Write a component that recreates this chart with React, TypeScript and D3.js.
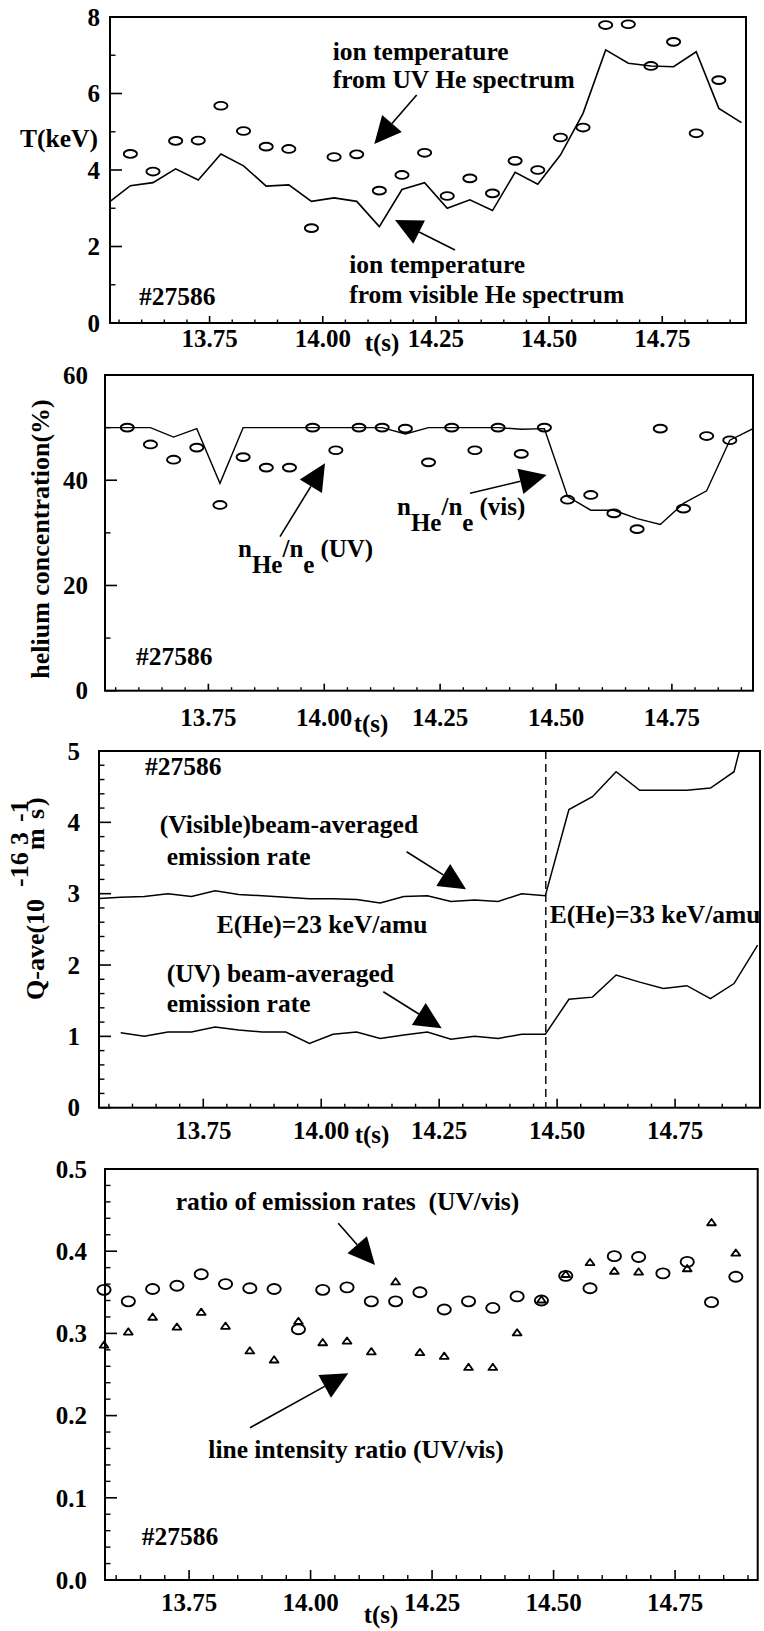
import React from 'react';
import * as d3 from 'd3';

const SERIF = '"Liberation Serif", "Times New Roman", Times, serif';
const W = 764;
const H = 1631;

// Sample times (s), one every 50 ms
const tGrid = [13.525, 13.575, 13.625, 13.675, 13.725, 13.775, 13.825, 13.875, 13.925, 13.975,
  14.025, 14.075, 14.125, 14.175, 14.225, 14.275, 14.325, 14.375, 14.425, 14.475,
  14.525, 14.575, 14.625, 14.675, 14.725, 14.775, 14.825, 14.875, 14.925];

// Ion temperature (keV)
const tiVisible = [3.13, 3.59, 3.67, 4.03, 3.74, 4.42, 4.11, 3.58, 3.61, 3.18, 3.27, 3.18, 2.52, 3.49, 3.67,
  3.00, 3.22, 2.94, 3.94, 3.63, 4.39, 5.48, 7.14, 6.79, 6.72, 6.70, 7.09, 5.61, 5.24];
const tiUV = [null, 4.42, 3.96, 4.76, 4.77, 5.68, 5.02, 4.61, 4.55, 2.48, 4.34, 4.41, 3.46, 3.87, 4.45,
  3.32, 3.78, 3.39, 4.24, 4.00, 4.85, 5.11, 7.79, 7.81, 6.72, 7.35, 4.96, 6.35, null];

// Helium concentration n_He/n_e (%)
const heVisible = [50, 50, 50, 48.2, 49.8, 39.4, 50, 50, 50, 50, 50, 50, 50, 48.8, 50,
  50, 50, 50, 49.7, 49.8, 36.9, 34.3, 34.3, 32.7, 31.6, 35.6, 38.0, 47.6, 49.8];
const heUV = [null, 50, 46.8, 43.9, 46.2, 35.3, 44.4, 42.4, 42.4, 50, 45.7, 50, 50, 49.8, 43.4,
  50, 45.7, 50, 45.0, 50, 36.3, 37.2, 33.7, 30.7, 49.8, 34.6, 48.4, 47.6, null];

// Beam-averaged emission rate Q-ave (10^-16 m^3 s^-1)
const qVisible = [2.93, 2.95, 2.96, 3.00, 2.96, 3.04, 2.99, 2.97, 2.95, 2.93, 2.93, 2.92, 2.87, 2.96, 2.97,
  2.89, 2.91, 2.89, 3.00, 2.97, 4.18, 4.36, 4.71, 4.45, 4.45, 4.45, 4.48, 4.71, 6.0];
const qUV = [null, 1.05, 1.00, 1.06, 1.06, 1.13, 1.09, 1.06, 1.06, 0.90, 1.03, 1.06, 0.97, 1.02, 1.06,
  0.96, 1.00, 0.97, 1.03, 1.03, 1.52, 1.55, 1.86, 1.76, 1.67, 1.71, 1.53, 1.74, 2.28];

// UV/visible ratios
const ratioEmission = [null, 0.353, 0.339, 0.354, 0.358, 0.372, 0.360, 0.355, 0.354, 0.305, 0.353, 0.356, 0.339,
  0.339, 0.350, 0.329, 0.339, 0.331, 0.345, 0.340, 0.370, 0.355, 0.394, 0.393, 0.373, 0.387, 0.338, 0.369, null];
const ratioIntensity = [null, 0.286, 0.302, 0.320, 0.308, 0.326, 0.309, 0.279, 0.268, 0.315, 0.289, 0.291, 0.278,
  0.363, 0.277, 0.2725, 0.259, 0.259, 0.301, 0.341, 0.372, 0.3865, 0.376, 0.375, null, 0.379, 0.435, 0.398, null];

const xTickValues = [13.75, 14.0, 14.25, 14.5, 14.75];
const xTickLabels = ['13.75', '14.00', '14.25', '14.50', '14.75'];
const tempTicks = [0, 2, 4, 6, 8];
const tempMinor = [1, 3, 5, 7];
const heTicks = [0, 20, 40, 60];
const heMinor = [10, 30, 50];
const qTicks = [0, 1, 2, 3, 4, 5];
const ratioTicks = [0, 0.1, 0.2, 0.3, 0.4, 0.5];
const ratioTickLabels = ['0.0', '0.1', '0.2', '0.3', '0.4', '0.5'];
const beamSwitchTime = 14.476;
const shotLabel = '#27586';

type Scale = d3.ScaleLinear<number, number>;
type Frame = { left: number; right: number; top: number; bottom: number };
interface PanelSpec {
  id: string;
  frame: Frame;
  xDomain: [number, number];
  yDomain: [number, number];
  yMajor: number[];
  yLabels: string[];
  yMinor: number[];
  yLabelRight: number;
  xLabelBaseline: number;
  xMajorLen: number;
  xMinorLen: number;
  tLabel: [number, number];
}

function pairs(values: (number | null)[]) {
  return tGrid.map((t, i) => ({ t, v: values[i] })).filter(d => d.v !== null) as { t: number; v: number }[];
}

function Arrow({ x1, y1, x2, y2 }: { x1: number; y1: number; x2: number; y2: number }) {
  const len = 27;
  const wid = 26;
  const dx = x2 - x1;
  const dy = y2 - y1;
  const d = Math.hypot(dx, dy);
  const ux = dx / d;
  const uy = dy / d;
  const bx = x2 - ux * len;
  const by = y2 - uy * len;
  const px = -uy * wid / 2;
  const py = ux * wid / 2;
  return (
    <g>
      <line x1={x1} y1={y1} x2={bx} y2={by} stroke="#000" strokeWidth={1.6} />
      <polygon points={`${x2},${y2} ${bx + px},${by + py} ${bx - px},${by - py}`} fill="#000" />
    </g>
  );
}

function Label({ x, y, children, size = 25.5, anchor = 'start' }: any) {
  return (
    <text x={x} y={y} fontFamily={SERIF} fontWeight="bold" fontSize={size} textAnchor={anchor} fill="#000">
      {children}
    </text>
  );
}

function Panel({ spec, render }: { spec: PanelSpec; render: (x: Scale, y: Scale, clip: string) => React.ReactNode }) {
  const f = spec.frame;
  const x = d3.scaleLinear().domain(spec.xDomain).range([f.left, f.right]);
  const y = d3.scaleLinear().domain(spec.yDomain).range([f.bottom, f.top]);
  const xMinor = d3.range(13.55, 14.93, 0.05).filter(
    t => t > spec.xDomain[0] + 0.004 && t < spec.xDomain[1] - 0.004 && !xTickValues.some(m => Math.abs(m - t) < 0.01)
  );
  return (
    <g>
      <defs>
        <clipPath id={spec.id}>
          <rect x={f.left} y={f.top} width={f.right - f.left} height={f.bottom - f.top} />
        </clipPath>
      </defs>
      {render(x, y, spec.id)}
      <rect x={f.left} y={f.top} width={f.right - f.left} height={f.bottom - f.top} fill="none" stroke="#000" strokeWidth={2} />
      {spec.yMajor.map((v, i) => (
        <g key={`ym${i}`}>
          <line x1={f.left} x2={f.left + 12} y1={y(v)} y2={y(v)} stroke="#000" strokeWidth={1.6} />
          <text x={spec.yLabelRight} y={y(v)} dy="0.35em" textAnchor="end" fontFamily={SERIF} fontWeight="bold" fontSize={25}>
            {spec.yLabels[i]}
          </text>
        </g>
      ))}
      {spec.yMinor.map((v, i) => (
        <line key={`yn${i}`} x1={f.left} x2={f.left + 5.5} y1={y(v)} y2={y(v)} stroke="#000" strokeWidth={1.4} />
      ))}
      {xTickValues.map((t, i) => (
        <g key={`xm${i}`}>
          <line x1={x(t)} x2={x(t)} y1={f.bottom} y2={f.bottom - spec.xMajorLen} stroke="#000" strokeWidth={1.6} />
          <text x={x(t)} y={spec.xLabelBaseline} textAnchor="middle" fontFamily={SERIF} fontWeight="bold" fontSize={25}>
            {xTickLabels[i]}
          </text>
        </g>
      ))}
      {xMinor.map((t, i) => (
        <line key={`xn${i}`} x1={x(t)} x2={x(t)} y1={f.bottom} y2={f.bottom - spec.xMinorLen} stroke="#000" strokeWidth={1.4} />
      ))}
      <Label x={spec.tLabel[0]} y={spec.tLabel[1]} size={25} anchor="middle">t(s)</Label>
    </g>
  );
}

const tempSpec: PanelSpec = {
  id: 'clip-temp',
  frame: { left: 110, right: 746, top: 17, bottom: 323 },
  xDomain: [13.53, 14.935],
  yDomain: [0, 8],
  yMajor: tempTicks,
  yLabels: tempTicks.map(String),
  yMinor: tempMinor,
  yLabelRight: 100,
  xLabelBaseline: 347,
  xMajorLen: 7,
  xMinorLen: 3.5,
  tLabel: [382, 351],
};

const heSpec: PanelSpec = {
  id: 'clip-he',
  frame: { left: 105, right: 753, top: 375, bottom: 690.7 },
  xDomain: [13.527, 14.925],
  yDomain: [0, 60],
  yMajor: heTicks,
  yLabels: heTicks.map(String),
  yMinor: heMinor,
  yLabelRight: 88,
  xLabelBaseline: 726,
  xMajorLen: 7,
  xMinorLen: 3.5,
  tLabel: [371, 732],
};

const qSpec: PanelSpec = {
  id: 'clip-q',
  frame: { left: 99, right: 760, top: 751, bottom: 1107.7 },
  xDomain: [13.529, 14.93],
  yDomain: [0, 5],
  yMajor: qTicks,
  yLabels: qTicks.map(String),
  yMinor: d3.range(0.2, 5, 0.2).filter(v => Math.abs(v - Math.round(v)) > 0.01),
  yLabelRight: 80,
  xLabelBaseline: 1139,
  xMajorLen: 9,
  xMinorLen: 4,
  tLabel: [372, 1143],
};

const ratioSpec: PanelSpec = {
  id: 'clip-ratio',
  frame: { left: 105, right: 757.7, top: 1169, bottom: 1580 },
  xDomain: [13.577, 14.92],
  yDomain: [0, 0.5],
  yMajor: ratioTicks,
  yLabels: ratioTickLabels,
  yMinor: d3.range(0.02, 0.5, 0.02).filter(v => Math.abs(v * 10 - Math.round(v * 10)) > 0.01),
  yLabelRight: 87,
  xLabelBaseline: 1611,
  xMajorLen: 10,
  xMinorLen: 5,
  tLabel: [381, 1623],
};

function linePath(x: Scale, y: Scale, values: (number | null)[]) {
  return d3.line<{ t: number; v: number }>().x(d => x(d.t)).y(d => y(d.v))(pairs(values)) || '';
}

function Ellipses({ x, y, values, rx, ry }: { x: Scale; y: Scale; values: (number | null)[]; rx: number; ry: number }) {
  return (
    <g>
      {pairs(values).map((d, i) => (
        <ellipse key={i} cx={x(d.t)} cy={y(d.v)} rx={rx} ry={ry} fill="none" stroke="#000" strokeWidth={1.9} />
      ))}
    </g>
  );
}

function Triangles({ x, y, values }: { x: Scale; y: Scale; values: (number | null)[] }) {
  return (
    <g>
      {pairs(values).map((d, i) => (
        <path key={i} transform={`translate(${x(d.t)},${y(d.v)})`} d="M0,-3.4L4.4,2.8L-4.4,2.8Z" fill="none" stroke="#000" strokeWidth={1.8} strokeLinejoin="round" />
      ))}
    </g>
  );
}

export default function App() {
  return (
    <svg width={W} height={H} viewBox={`0 0 ${W} ${H}`} style={{ position: 'absolute', left: 0, top: 0, display: 'block', background: '#fff' }}>
      <rect x={0} y={0} width={W} height={H} fill="#fff" />

      {/* Ion temperature */}
      <Panel
        spec={tempSpec}
        render={(x, y, clip) => (
          <g>
            <path d={linePath(x, y, tiVisible)} fill="none" stroke="#000" strokeWidth={1.6} clipPath={`url(#${clip})`} />
            <Ellipses x={x} y={y} values={tiUV} rx={6.6} ry={3.9} />
            <Label x={x(14.022)} y={y(6.876)}>ion temperature</Label>
            <Label x={x(14.022)} y={y(6.144)}>from UV He spectrum</Label>
            <Arrow x1={x(14.2075)} y1={y(5.961)} x2={x(14.1139)} y2={y(4.68)} />
            <Label x={x(14.0586)} y={y(1.299)}>ion temperature</Label>
            <Label x={x(14.0586)} y={y(0.515)}>from visible He spectrum</Label>
            <Arrow x1={x(14.2921)} y1={y(1.908)} x2={x(14.1596)} y2={y(2.693)} />
            <Label x={x(13.594)} y={y(0.471)}>{shotLabel}</Label>
          </g>
        )}
      />
      <Label x={20} y={147} size={25.5}>T(keV)</Label>

      {/* Helium concentration */}
      <Panel
        spec={heSpec}
        render={(x, y, clip) => (
          <g>
            <path d={linePath(x, y, heVisible)} fill="none" stroke="#000" strokeWidth={1.4} clipPath={`url(#${clip})`} />
            <Ellipses x={x} y={y} values={heUV} rx={6.6} ry={3.9} />
            <text x={x(13.814)} y={y(25.41)} fontFamily={SERIF} fontWeight="bold" fontSize={25}>
              <tspan>n</tspan>
              <tspan dy={16}>He</tspan>
              <tspan dy={-16}>/n</tspan>
              <tspan dy={16}>e</tspan>
              <tspan dy={-16} dx={6}>(UV)</tspan>
            </text>
            <Arrow x1={x(13.9045)} y1={y(29.27)} x2={x(14.0016)} y2={y(43.22)} />
            <text x={x(14.157)} y={y(33.39)} fontFamily={SERIF} fontWeight="bold" fontSize={25}>
              <tspan>n</tspan>
              <tspan dy={16}>He</tspan>
              <tspan dy={-16}>/n</tspan>
              <tspan dy={16}>e</tspan>
              <tspan dy={-16} dx={6}>(vis)</tspan>
            </text>
            <Arrow x1={x(14.3145)} y1={y(37.52)} x2={x(14.4799)} y2={y(40.99)} />
            <Label x={x(13.594)} y={y(4.88)}>{shotLabel}</Label>
          </g>
        )}
      />
      <g transform="translate(49,539) rotate(-90)">
        <text x={0} y={0} textAnchor="middle" fontFamily={SERIF} fontWeight="bold" fontSize={26}>
          helium concentration(%)
        </text>
      </g>

      {/* Beam-averaged emission rate */}
      <Panel
        spec={qSpec}
        render={(x, y, clip) => (
          <g>
            <line x1={x(beamSwitchTime)} x2={x(beamSwitchTime)} y1={y(5)} y2={y(0)} stroke="#000" strokeWidth={1.4} strokeDasharray="8 5" />
            <path d={linePath(x, y, qVisible)} fill="none" stroke="#000" strokeWidth={1.5} clipPath={`url(#${clip})`} />
            <path d={linePath(x, y, qUV)} fill="none" stroke="#000" strokeWidth={1.5} clipPath={`url(#${clip})`} />
            <Label x={x(13.6265)} y={y(4.664)}>{shotLabel}</Label>
            <Label x={x(13.658)} y={y(3.851)}>(Visible)beam-averaged</Label>
            <Label x={x(13.6725)} y={y(3.402)}>emission rate</Label>
            <Arrow x1={x(14.181)} y1={y(3.588)} x2={x(14.307)} y2={y(3.061)} />
            <Label x={x(13.7785)} y={y(2.449)}>E(He)=23 keV/amu</Label>
            <Label x={x(beamSwitchTime) + 4} y={y(2.585)}>E(He)=33 keV/amu</Label>
            <Label x={x(13.6725)} y={y(1.766)}>(UV) beam-averaged</Label>
            <Label x={x(13.6725)} y={y(1.346)}>emission rate</Label>
            <Arrow x1={x(14.1316)} y1={y(1.626)} x2={x(14.2553)} y2={y(1.113)} />
          </g>
        )}
      />
      <g transform="translate(44,1000) rotate(-90)" fontFamily={SERIF} fontWeight="bold" fontSize={26}>
        <text x={0} y={0}>Q-ave(10</text>
        <text x={113} y={-16}>-16</text>
        <text x={150} y={0}>m</text>
        <text x={155} y={-16}>3</text>
        <text x={181} y={0}>s</text>
        <text x={178} y={-16}>-1</text>
        <text x={194} y={0}>)</text>
      </g>

      {/* UV / visible ratios */}
      <Panel
        spec={ratioSpec}
        render={(x, y) => (
          <g>
            <Ellipses x={x} y={y} values={ratioEmission} rx={6.6} ry={5.0} />
            <Triangles x={x} y={y} values={ratioIntensity} />
            <Label x={x(13.7225)} y={y(0.4501)}>{'ratio of emission rates\u00a0\u00a0(UV/vis)'}</Label>
            <Arrow x1={x(14.057)} y1={y(0.4339)} x2={x(14.1326)} y2={y(0.3832)} />
            <Label x={x(13.7896)} y={y(0.1481)}>line intensity ratio (UV/vis)</Label>
            <Arrow x1={x(13.8754)} y1={y(0.1853)} x2={x(14.0776)} y2={y(0.2515)} />
            <Label x={x(13.6525)} y={y(0.0426)}>{shotLabel}</Label>
          </g>
        )}
      />
    </svg>
  );
}
